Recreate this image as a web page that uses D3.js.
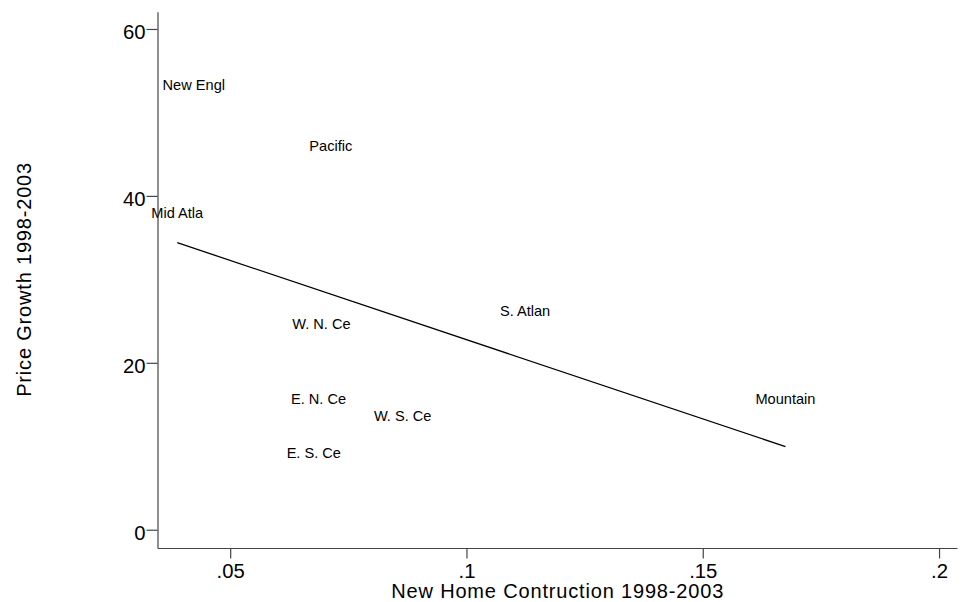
<!DOCTYPE html>
<html>
<head>
<meta charset="utf-8">
<script src="https://cdn.jsdelivr.net/npm/d3@7"></script>
<style>
  body { margin: 0; background: #fff; }
  text { font-family: "Liberation Sans", Arial, sans-serif; fill: #000; }
</style>
</head>
<body>
<script>
  // census divisions: construction share vs price growth
  const regions = ["New Engl", "Pacific", "Mid Atla", "W. N. Ce", "S. Atlan",
                   "E. N. Ce", "W. S. Ce", "E. S. Ce", "Mountain"];
  const construction = [0.0423, 0.0713, 0.0388, 0.0693, 0.1124,
                        0.0687, 0.0865, 0.0677, 0.1675];
  const priceGrowth = [52.9, 45.5, 37.5, 24.2, 25.8, 15.2, 13.2, 8.8, 15.2];
  const xTicks = [0.05, 0.1, 0.15, 0.2];
  const xTickLabels = [".05", ".1", ".15", ".2"];
  const yTicks = [0, 20, 40, 60];

  const W = 964, H = 602;

  const svg = d3.select('body')
    .append('svg')
    .attr('width', W)
    .attr('height', H);

  let x = d3.scaleLinear()
      .domain([0.03462, 0.2038])
      .range([157.5, 957]);

  let y = d3.scaleLinear()
      .domain([-2.19, 62.07])
      .range([548, 11.7]);

  let data = regions.map(function(r, i) {
    return {name: r, x: construction[i], y: priceGrowth[i]};
  });

  // axes
  let xAxis = d3.axisBottom(x)
      .tickValues(xTicks)
      .tickSize(10.5)
      .tickSizeOuter(0)
      .tickFormat(function(d, i) { return xTickLabels[i]; });

  let yAxis = d3.axisLeft(y)
      .tickValues(yTicks)
      .tickSize(11)
      .tickSizeOuter(0)
      .tickPadding(1);

  let gx = svg.append('g')
    .attr('transform', 'translate(0,' + y.range()[0] + ')')
    .call(xAxis);

  let gy = svg.append('g')
    .attr('transform', 'translate(' + x.range()[0] + ',0)')
    .call(yAxis);

  [gx, gy].forEach(function(g) {
    g.select('.domain').attr('stroke', '#444').attr('stroke-width', 1.2);
    g.selectAll('.tick line').attr('stroke', '#444').attr('stroke-width', 1.2);
    g.selectAll('.tick text')
      .attr('font-size', '20.3px')
      .attr('font-family', '"Liberation Sans", Arial, sans-serif')
      .attr('fill', '#000');
  });
  gy.selectAll('.tick text').attr('y', 10).attr('dy', 0);
  gx.selectAll('.tick text').attr('y', 29.7).attr('dy', 0);

  // fitted line (OLS)
  let mx = d3.mean(data, d => d.x), my = d3.mean(data, d => d.y);
  let sxy = d3.sum(data, d => (d.x - mx) * (d.y - my));
  let sxx = d3.sum(data, d => (d.x - mx) * (d.x - mx));
  let b = sxy / sxx, a = my - b * mx;
  let ext = d3.extent(data, d => d.x);
  let fit = ext.map(v => ({x: v, y: a + b * v}));

  svg.append('path')
    .datum(fit)
    .attr('fill', 'none')
    .attr('stroke', '#000')
    .attr('stroke-width', 1.3)
    .attr('d', d3.line().x(d => x(d.x)).y(d => y(d.y)));

  // point labels (centred on the point)
  svg.selectAll('.lab')
    .data(data)
    .enter().append('text')
      .attr('class', 'lab')
      .attr('x', d => x(d.x))
      .attr('y', d => y(d.y) + 1.5)
      .attr('text-anchor', 'middle')
      .attr('font-size', '14.6px')
      .attr('fill', '#1a1a1a')
      .text(d => d.name);

  // titles
  svg.append('text')
    .attr('x', (x.range()[0] + x.range()[1]) / 2)
    .attr('y', 598)
    .attr('text-anchor', 'middle')
    .attr('font-size', '20px')
    .attr('textLength', 332)
    .attr('lengthAdjust', 'spacing')
    .text('New Home Contruction 1998-2003');

  svg.append('text')
    .attr('transform', 'translate(31,' + (y.range()[0] + y.range()[1]) / 2 + ') rotate(-90)')
    .attr('text-anchor', 'middle')
    .attr('font-size', '20px')
    .attr('textLength', 234)
    .attr('lengthAdjust', 'spacing')
    .text('Price Growth 1998-2003');
</script>
</body>
</html>
